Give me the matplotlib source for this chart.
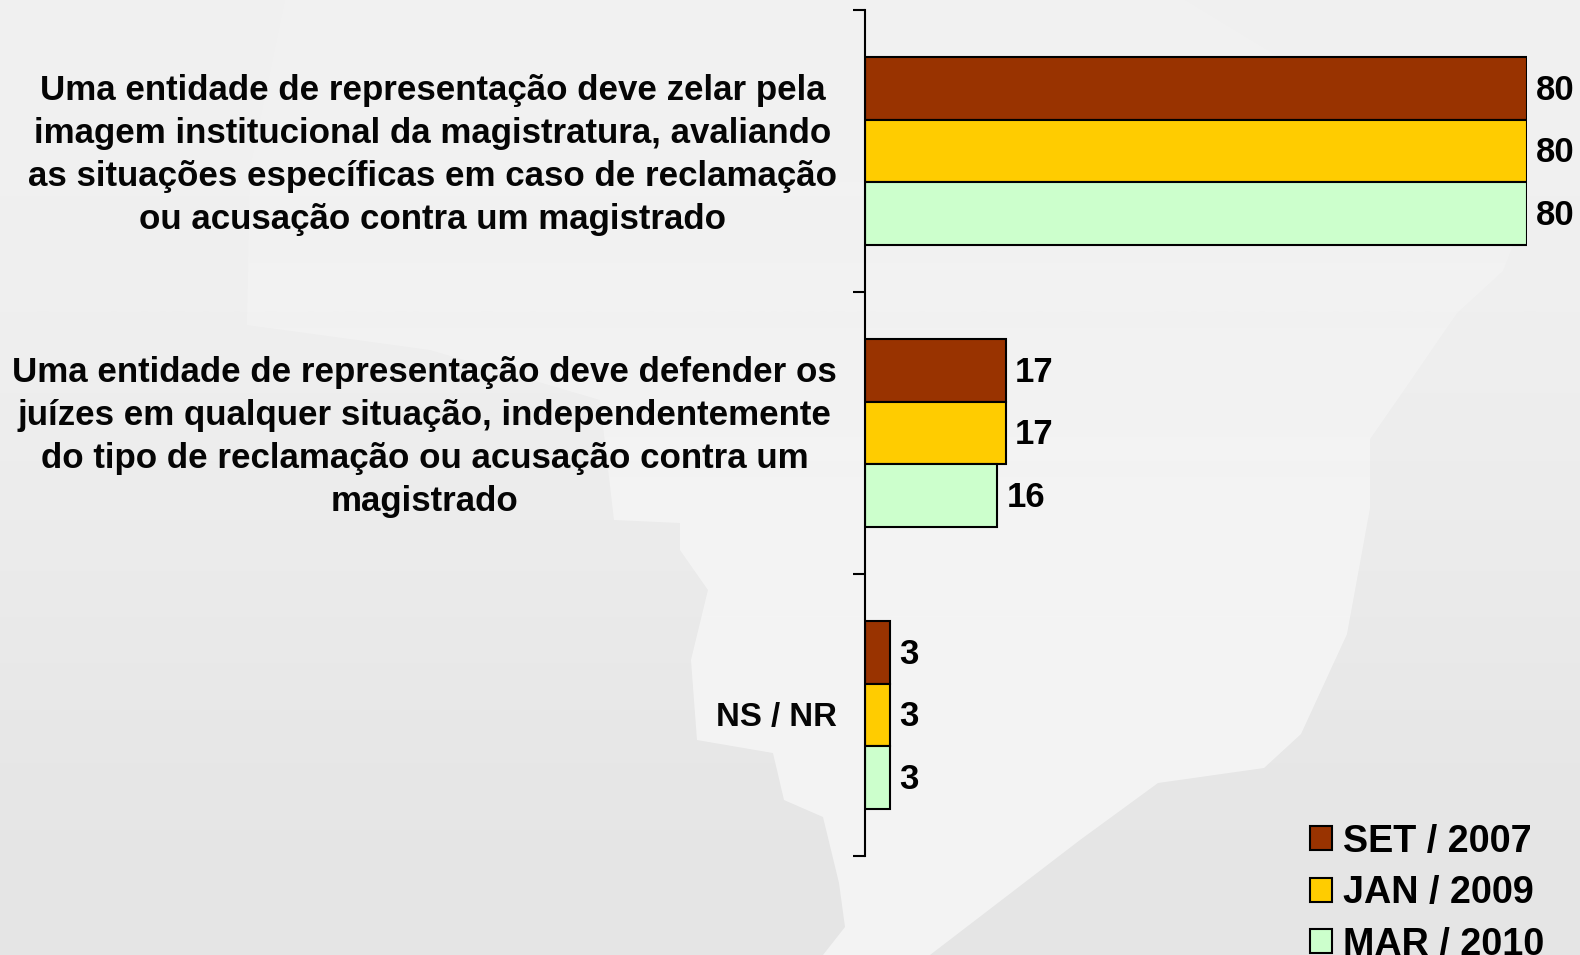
import numpy as np
import matplotlib
matplotlib.use('Agg')
import matplotlib.pyplot as plt
from matplotlib.patches import Patch, Polygon

categories = [
    'Uma entidade de representação deve zelar pela\nimagem institucional da magistratura, avaliando\nas situações específicas em caso de reclamação\nou acusação contra um magistrado',
    'Uma entidade de representação deve defender os\njuízes em qualquer situação, independentemente\ndo tipo de reclamação ou acusação contra um\nmagistrado',
    'NS / NR',
]
series_names = ['SET / 2007', 'JAN / 2009', 'MAR / 2010']
set_2007 = [80, 17, 3]
jan_2009 = [80, 17, 3]
mar_2010 = [80, 16, 3]
colors = ['#993300', '#FFCC00', '#CCFFCC']

plt.rcParams['font.family'] = ['Liberation Sans', 'DejaVu Sans']

fig = plt.figure(figsize=(15.8, 9.55), dpi=100)

# soft grey background with a pale map shape behind the chart, in picture pixels
bg = fig.add_axes([0, 0, 1, 1], zorder=0)
bg.imshow([[0.94], [0.937], [0.93], [0.92], [0.905], [0.895]], cmap='gray', vmin=0, vmax=1,
          aspect='auto', extent=[0, 1580, 955, 0], interpolation='bicubic')
map_shape = [(285, 0), (250, 170), (247, 325), (430, 350), (600, 400), (614, 520), (680, 523), (680, 550),
             (708, 590), (691, 660), (697, 740), (773, 753), (784, 800), (823, 817), (839, 883), (845, 927),
             (823, 955), (930, 955), (1080, 840), (1158, 783), (1264, 768), (1301, 734), (1347, 634),
             (1370, 508), (1370, 439), (1402, 393), (1457, 313), (1503, 271), (1530, 200), (1420, 143),
             (1185, 0)]
shape = Polygon(map_shape, closed=True, fc='none', ec='none')
bg.add_patch(shape)
shade = np.ones((4, 1, 4))
shade[:, 0, 3] = [0.08, 0.25, 0.50, 0.55]
im = bg.imshow(shade, aspect='auto', extent=[0, 1580, 955, 0], interpolation='bicubic')
im.set_clip_path(shape)
bg.set_xlim(0, 1580)
bg.set_ylim(955, 0)
bg.axis('off')

ax = fig.add_axes([865 / 1580, 1 - 856 / 955, (1527 - 865) / 1580, (856 - 10) / 955], zorder=1)
ax.patch.set_alpha(0)

bar_h = 0.2225
for i, (vals, c) in enumerate(zip([set_2007, jan_2009, mar_2010], colors)):
    ypos = [k + (i - 1) * bar_h for k in range(3)]
    bars = ax.barh(ypos, vals, height=bar_h, color=c, edgecolor='black', linewidth=1.5)
    labels = ax.bar_label(bars, padding=6.5, fontsize=25, fontweight='bold')
    for t in labels:
        t.xyann = (t.xyann[0], -1.3)

ax.set_xlim(0, 80)
ax.set_ylim(2.5, -0.5)
ax.set_yticks([-0.5, 0.5, 1.5, 2.5])
ax.set_yticklabels([])
ax.tick_params(axis='y', length=9, width=1.5, direction='out')
ax.set_xticks([])
for s in ['top', 'right', 'bottom']:
    ax.spines[s].set_visible(False)
ax.spines['left'].set_linewidth(1.5)

for k, cat in enumerate(categories):
    ax.annotate(cat, xy=(0, k), xycoords='data', xytext=(-28, -4 if k < 2 else -2),
                textcoords='offset pixels', ha='right', va='center',
                fontsize=25.1 if k < 2 else 23.8, fontweight='bold', multialignment='center',
                linespacing=1.38, color='#050505')

handles = [Patch(fc=c, ec='black', lw=1.5) for c in colors]
fig.legend(handles, series_names, loc='lower right', bbox_to_anchor=(1544 / 1580, -0.008),
           frameon=False, prop={'size': 27.2, 'weight': 'bold'}, handlelength=0.59, handleheight=0.59,
           handletextpad=0.29, labelspacing=0.41, borderpad=0, borderaxespad=0)

fig.savefig('out.png', dpi=100)
